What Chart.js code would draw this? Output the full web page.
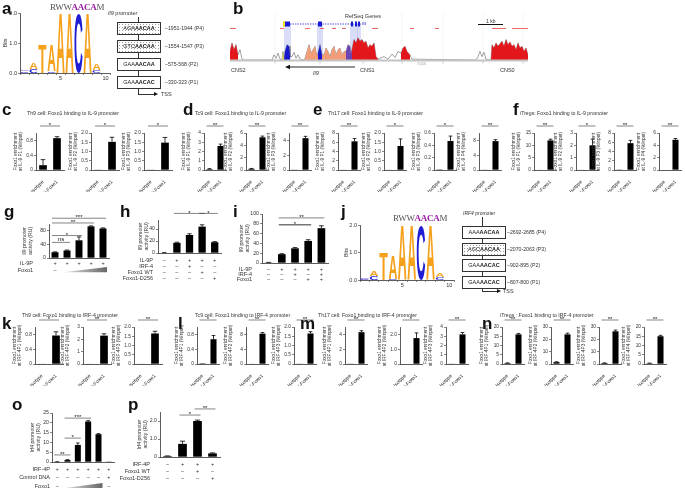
<!DOCTYPE html>
<html><head><meta charset="utf-8">
<script src="https://cdn.jsdelivr.net/npm/chart.js@4.4.1/dist/chart.umd.min.js"></script>
<style>
body{margin:0;background:#fff;font-family:"Liberation Sans",Arial,sans-serif;color:#222}
#fig{position:relative;width:685px;height:488px;overflow:hidden}
canvas{position:absolute}
.t{position:absolute;font-size:5.2px;line-height:1;white-space:nowrap;color:#333}
.p{position:absolute;font-size:17px;font-weight:bold;line-height:1;color:#111}
.bx{position:absolute;width:42px;height:11px;border:1px solid #333;font-size:5.5px;line-height:11px;text-align:center;background:#fff;color:#222}
.dot{background-image:radial-gradient(#999 0.6px,transparent 0.9px);background-size:3px 3px}
.ln{position:absolute;background:#333}
.motif{position:absolute;font-family:"Liberation Serif",serif;font-size:9px;line-height:1;color:#555;letter-spacing:-0.3px}
.motif b{color:#9b1fa5}
</style></head><body><div id="fig"></div>
<script>
// ---------- data ----------
const logoPos = ['1', '2', '3', '4', '5', '6', '7', '8', '9', '10'];
const logoLowSeq = ['C', 'C', '', 'C', '', '', '', '', 'C', 'G'];
const logoTopSeq = ['G', 'A', 'T', 'A', 'A', 'A', 'C', 'A', 'A', 'A'];
const logoA_low = [0.06, 0.12, 0, 0.07, 0, 0, 0, 0, 0.1, 0.02];
const logoA_top = [0.05, 0.22, 0.95, 0.85, 2.0, 2.0, 1.97, 2.0, 0.2, 0.01];
const logoJ_low = [0.05, 0.15, 0, 0.05, 0, 0, 0, 0, 0.1, 0.02];
const logoJ_top = [0.05, 0.2, 1.0, 0.85, 2.0, 2.0, 1.97, 2.0, 0.15, 0.01];

// conservation track (panel b)
const trackPos = [0, 2, 4, 6, 8, 10, 12, 14, 42, 44, 46, 48, 50, 52, 53, 54, 55, 57, 59, 60, 62, 64, 66, 68, 70, 74, 75, 77, 79, 81, 83, 85, 87, 88, 90, 92, 94, 96, 98, 100, 102, 104, 106, 108, 110, 112, 114, 116, 118, 120, 121, 122, 124, 126, 128, 130, 132, 134, 136, 138, 140, 142, 144, 146, 148, 150, 154, 158, 162, 165, 168, 171, 173, 175, 177, 180, 182, 246, 248, 250, 252, 254, 256, 261, 262, 264, 266, 268, 270, 272, 274, 276, 278, 280, 282, 284, 286, 288, 290, 292, 294, 296, 298];
const trackBits = [.5, 1.0, .6, .9, .3, .6, .05, 0, 0, .3, .1, .4, .05, 0, .5, 0, .5, .9, .8, .2, .2, .45, .1, .3, .05, 0, .1, .5, .9, .4, .6, .8, .2, .4, .9, .3, .3, .7, .5, .2, .6, .8, .3, .6, .7, .3, .5, .5, .9, .8, .3, .6, 1.2, 1.0, 1.3, 1.1, 1.2, 1.0, 1.1, .7, .9, .8, 1.0, .2, .05, .1, .2, .05, .35, .15, .5, .4, .7, .8, .5, .3, .05, 0, .2, .5, .2, .45, .05, 0, .9, .7, 1.0, .8, .95, 1.1, .8, 1.2, .9, 1.05, .8, .9, .6, 1.0, .7, .8, .5, .7, .3];
const trackRegions = [[0, 8, '#e3161c'], [52, 54, '#e6dc3a'], [54, 60, '#1717cc'], [74, 88, '#f29c78'], [88, 92, '#1717cc'], [92, 116, '#f29c78'], [116, 122, '#6b44b5'], [121, 148, '#e3161c'], [171, 180, '#e3161c'], [261, 298, '#e3161c']];
const geneSpan = [55, 131];
const geneExons = [[55, 60], [88, 92], [121, 123], [125, 127], [128, 130]];
const repeats = [[0, 6], [50, 54], [75, 80], [90, 94], [102, 106], [112, 116], [142, 148], [180, 184], [205, 209], [262, 276], [282, 298]];
const trackGrid = [45, 90, 133, 172, 213, 253, 293];

// ChIP panels
const chipLabels = ['Isotype', 'Anti-Foxo1'];
const cMean = [[0.13, 0.86], [0.01, 1.52], [0.01, 1.48]];
const cErr = [[0.15, 0.04], [0, 0.25], [0, 0.28]];
const cAxis = [[1, 0.2], [2, 0.5], [2, 0.5]];
const cStar = ['*', '*', '*'];
const dMean = [[0.1, 2.6], [0.2, 5.3], [0.02, 4.3]];
const dErr = [[0.05, 0.2], [0.05, 0.2], [0, 0.25]];
const dAxis = [[4, 1], [6, 2], [5, 1]];
const dStar = ['**', '**', '**'];
const eMean = [[0.05, 6.2], [0.02, 1.3], [0.01, 0.47], [0.05, 7.8]];
const eErr = [[0, 0.6], [0, 0.38], [0, 0.08], [0, 0.4]];
const eAxis = [[8, 2], [2, 0.5], [0.6, 0.2], [10, 2]];
const eStar = ['**', '*', '*', '**'];
const fMean = [[0.1, 12], [0.02, 2.0], [0.02, 5.8], [0.05, 4.9]];
const fErr = [[0, 0.5], [0, 0.5], [0, 0.6], [0, 0.2]];
const fAxis = [[15, 5], [3, 1], [8, 2], [6, 2]];
const fStar = ['**', '*', '**', '**'];
const kMean = [[0.01, 0.77], [0.02, 2.3], [0.02, 1.65]];
const kErr = [[0, 0.1], [0, 0.15], [0, 0.12]];
const kAxis = [[1, 0.2], [3, 1], [2, 0.5]];
const kStar = ['*', '**', '**'];
const lMean = [[0.02, 0.67], [0.1, 8.2], [0.01, 1.65]];
const lErr = [[0, 0.1], [0, 0.3], [0, 0.1]];
const lAxis = [[1, 0.2], [10, 2], [2, 0.5]];
const lStar = ['*', '**', '**'];
const mMean = [[0.02, 4.3], [0.02, 1.75], [0.02, 3.2]];
const mErr = [[0, 0.2], [0, 0.35], [0, 0.2]];
const mAxis = [[5, 1], [2.5, 0.5], [4, 1]];
const mStar = ['**', '*', '**'];
const nMean = [[0.5, 16], [1.5, 24], [0.8, 26.5], [0.4, 15]];
const nErr = [[0.1, 0.5], [0.3, 1], [0.1, 1], [0.1, 0.5]];
const nAxis = [[20, 5], [30, 10], [30, 10], [20, 5]];
const nStar = ['**', '**', '**', '**'];

// promoter activity panels
const gVals = [17, 22, 52, 93, 87];
const gErr = [1, 1.5, 10, 1.5, 1.5];
const gSig = [[0, 1, 'ns', 46], [0, 2, '*', 66], [0, 3, '**', 103], [0, 4, '***', 117]];
const gIL9P = ['+', '+', '+', '+', '+'];
const gFoxo1 = ['–', '', '', '', ''];
const hVals = [0.5, 17, 30, 44, 18];
const hErr = [0.2, 1, 2, 3, 1];
const hSig = [[1, 3, '*', 66], [3, 4, '*', 66]];
const hIL9P = ['–', '+', '+', '+', '+'];
const hIRF4 = ['–', '–', '+', '–', '–'];
const hWT = ['–', '–', '–', '+', '–'];
const hD256 = ['–', '–', '–', '–', '+'];
const iVals = [1, 18, 30, 45, 71];
const iErr = [0.3, 1, 1.5, 2.5, 5];
const iSig = [[1, 4, '**', 92], [1, 3, '*', 78, '#777', 1.6]];
const iIL9P = ['–', '+', '+', '+', '+'];
const iIRF4 = ['–', '–', '+', '–', '+'];
const iFoxo1 = ['–', '–', '–', '+', '+'];
const oVals = [0.1, 1, 8.7, 20.7, 14.2, 0.05];
const oErr = [0.05, 0.2, 1, 0.5, 0.3, 0];
const oSig = [[0, 1, '**', 3.6], [1, 2, '*', 12.2], [1, 3, '***', 22.4]];
const oIRF4P = ['+', '+', '+', '+', '+', '+'];
const oCtrl = ['–', '–', '–', '–', '–', '+'];
const oFoxo1 = ['–', '', '', '', '', '–'];
const pVals = [0.05, 0.73, 2.0, 0.2];
const pErr = [0.01, 0.15, 0.05, 0.03];
const pSig = [[1, 2, '*', 2.33], [2, 3, '**', 2.67]];
const pIRF4P = ['–', '+', '+', '+'];
const pWT = ['–', '–', '+', '–'];
const pD256 = ['–', '–', '–', '+'];

// ---------- setup ----------
Chart.defaults.font.family = '"Liberation Sans", Arial, sans-serif';
Chart.defaults.font.size = 5;
Chart.defaults.color = '#333';
Chart.defaults.animation = false;
Chart.defaults.responsive = false;
Chart.defaults.plugins.legend.display = false;
Chart.defaults.plugins.tooltip.enabled = false;

const fig = document.getElementById('fig');

function canvasAt(area, m) {
  const c = document.createElement('canvas');
  const w = area.R - area.L + m.l + m.r, h = area.B - area.T + m.t + m.b;
  c.width = w; c.height = h;
  c.style.left = (area.L - m.l) + 'px';
  c.style.top = (area.T - m.t) + 'px';
  c.style.width = w + 'px'; c.style.height = h + 'px';
  fig.appendChild(c);
  return c;
}

function txt(x, y, html, cls, css) {
  const d = document.createElement('div');
  d.className = cls || 't';
  d.style.left = x + 'px'; d.style.top = y + 'px';
  if (css) d.style.cssText += css;
  d.innerHTML = html;
  fig.appendChild(d);
  return d;
}

// error bars (upper only)
const errBars = {
  id: 'errBars',
  afterDatasetsDraw(chart) {
    const ds = chart.data.datasets[0];
    if (!ds.err) return;
    const ctx = chart.ctx, ys = chart.scales.y;
    chart.getDatasetMeta(0).data.forEach((bar, i) => {
      const e = ds.err[i];
      if (!e) return;
      const top = ys.getPixelForValue(ds.data[i] + e);
      const cap = bar.width * 0.3;
      ctx.save();
      ctx.strokeStyle = '#000'; ctx.lineWidth = 0.8;
      ctx.beginPath();
      ctx.moveTo(bar.x, bar.y); ctx.lineTo(bar.x, top);
      ctx.moveTo(bar.x - cap, top); ctx.lineTo(bar.x + cap, top);
      ctx.stroke();
      ctx.restore();
    });
  }
};

// significance brackets
const sigBars = {
  id: 'sigBars',
  afterDraw(chart) {
    const items = chart.data.sig;
    if (!items) return;
    const ctx = chart.ctx, xs = chart.scales.x, ys = chart.scales.y;
    items.forEach(s => {
      const x1 = xs.getPixelForValue(s[0]) - 3, x2 = xs.getPixelForValue(s[1]) + 3;
      const y = s[3] == null ? chart.chartArea.top - 7 : ys.getPixelForValue(s[3]);
      ctx.save();
      ctx.strokeStyle = s[4] || '#333'; ctx.lineWidth = s[5] || 0.6;
      ctx.beginPath(); ctx.moveTo(x1, y); ctx.lineTo(x2, y); ctx.stroke();
      ctx.fillStyle = '#111';
      ctx.font = '6px "Liberation Sans"';
      ctx.textAlign = 'center'; ctx.textBaseline = 'bottom';
      ctx.fillText(s[2], (x1 + x2) / 2, s[2][0] === '*' ? y + 2.5 : y - 0.3);
      ctx.restore();
    });
  }
};

// +/- treatment table under the bars
const treatTable = {
  id: 'treatTable',
  afterDraw(chart) {
    const t = chart.data.table;
    if (!t) return;
    const ctx = chart.ctx, xs = chart.scales.x, a = chart.chartArea;
    ctx.save();
    ctx.font = '5.5px "Liberation Sans"'; ctx.textBaseline = 'middle';
    t.rows.forEach((r, k) => {
      const y = a.bottom + t.start + k * t.gap;
      ctx.fillStyle = '#333';
      ctx.textAlign = 'right'; ctx.fillText(r[0], a.left - t.off, y);
      ctx.textAlign = 'center';
      r[1].forEach((c, i) => { if (c) ctx.fillText(c, xs.getPixelForValue(i), y); });
      if (r[2]) {
        const x0 = xs.getPixelForValue(r[2][0]) - 4, x1 = xs.getPixelForValue(r[2][1]) + 4;
        const g = ctx.createLinearGradient(x0, 0, x1, 0);
        g.addColorStop(0, '#e4e4e4'); g.addColorStop(1, '#666');
        ctx.fillStyle = g;
        ctx.beginPath(); ctx.moveTo(x0, y + 2.2); ctx.lineTo(x1, y + 2.2); ctx.lineTo(x1, y - 3); ctx.closePath(); ctx.fill();
      }
    });
    ctx.restore();
  }
};

// sequence logo letters stretched into each stacked bar
const letterColor = { A: '#f6a11c', T: '#f6a11c', C: '#1d1dd4', G: '#8a52c2' };
const logoLetters = {
  id: 'logoLetters',
  afterDatasetsDraw(chart) {
    const ctx = chart.ctx;
    chart.data.datasets.forEach((ds, di) => {
      chart.getDatasetMeta(di).data.forEach((bar, i) => {
        const L = ds.letters[i];
        const h = bar.base - bar.y;
        if (!L || h < 0.6) return;
        ctx.save();
        ctx.font = 'bold 100px "Liberation Sans"';
        const m = ctx.measureText(L);
        const gw = m.actualBoundingBoxLeft + m.actualBoundingBoxRight;
        const gh = m.actualBoundingBoxAscent + m.actualBoundingBoxDescent;
        ctx.translate(bar.x - bar.width / 2, bar.base);
        ctx.scale(bar.width / gw, h / gh);
        ctx.fillStyle = letterColor[L];
        ctx.fillText(L, m.actualBoundingBoxLeft, -m.actualBoundingBoxDescent);
        ctx.restore();
      });
    });
  }
};

const axisLine = { color: '#333', width: 0.8 };
const tickGrid = { drawOnChartArea: false, tickLength: 2, color: '#333', lineWidth: 0.6 };

function logo(area, m, yw, low, top) {
  const cv = canvasAt(area, m);
  new Chart(cv, {
    type: 'bar',
    data: {
      labels: logoPos,
      datasets: [
        { data: low, letters: logoLowSeq, backgroundColor: 'rgba(0,0,0,0)', barPercentage: 0.9, categoryPercentage: 1 },
        { data: top, letters: logoTopSeq, backgroundColor: 'rgba(0,0,0,0)', barPercentage: 0.9, categoryPercentage: 1 }
      ]
    },
    options: {
      layout: { padding: { left: m.l - yw, top: m.t, right: m.r, bottom: 0 } },
      scales: {
        x: { stacked: true, grid: tickGrid, border: axisLine,
             ticks: { maxRotation: 0, autoSkip: false, padding: 0, font: { size: 5.5 }, callback: (v, i) => (i === 4 || i === 9) ? logoPos[i] : '' },
             afterFit: s => { s.height = m.b; } },
        y: { stacked: true, min: 0, max: 2, grid: tickGrid, border: axisLine,
             ticks: { stepSize: 1, padding: 1, font: { size: 5.5 }, callback: v => v.toFixed(1) },
             title: { display: true, text: 'Bits', font: { size: 5.5 }, padding: 0 },
             afterFit: s => { s.width = yw; } }
      }
    },
    plugins: [logoLetters]
  });
}

function chip(ax, T, wide, site, mean, err, axis, star) {
  const pw = wide ? 28 : 22;
  const L = ax - (wide ? 21 : 16.5);
  const m = { l: 24, t: 13, r: 3, b: 32 };
  const cv = canvasAt({ L: L, T: T, R: L + pw, B: T + 37 }, m);
  new Chart(cv, {
    type: 'bar',
    data: {
      labels: chipLabels,
      datasets: [{ data: mean, err: err, backgroundColor: '#000', barPercentage: 0.55, categoryPercentage: 1 }],
      sig: [[0, 1, star]]
    },
    options: {
      layout: { padding: { left: 1, top: m.t, right: m.r, bottom: 10 } },
      scales: {
        x: { grid: { display: false }, border: axisLine,
             ticks: { autoSkip: false, minRotation: 45, maxRotation: 45, padding: 1, color: '#222', font: { size: 4.9 } },
             afterFit: s => { s.height = 22; } },
        y: { min: 0, max: axis[0], grid: tickGrid, border: axisLine,
             ticks: { stepSize: axis[1], padding: 1, font: { size: 4.8 } },
             title: { display: true, text: ['Foxo1 enrichment', 'at ' + site + ' (%Input)'], font: { size: 4.7, lineHeight: 1.1 }, padding: 0 },
             afterFit: s => { s.width = 23; } }
      }
    },
    plugins: [errBars, sigBars]
  });
}

function chipGroup(xs, T, wide, prefix, mean, err, axis, star) {
  xs.forEach((ax, i) => chip(ax, T, wide, prefix + (i + 1), mean[i], err[i], axis[i], star[i]));
}

function activity(area, m, yw, vals, errs, yMax, step, ytitle, sig, table) {
  const cv = canvasAt(area, m);
  new Chart(cv, {
    type: 'bar',
    data: {
      labels: vals.map((v, i) => String(i)),
      datasets: [{ data: vals, err: errs, backgroundColor: '#000', barPercentage: 0.58, categoryPercentage: 1 }],
      sig: sig, table: table
    },
    options: {
      layout: { padding: { left: m.l - yw, top: m.t, right: m.r, bottom: m.b } },
      scales: {
        x: { grid: { display: false }, border: axisLine, ticks: { display: false }, afterFit: s => { s.height = 0; } },
        y: { min: 0, max: yMax, grid: tickGrid, border: axisLine,
             ticks: { stepSize: step, padding: 1, font: { size: 5.2 } },
             afterBuildTicks: s => { s.ticks = s.ticks.filter(t => Math.abs(t.value / step - Math.round(t.value / step)) < 1e-6); },
             title: { display: true, text: ytitle, font: { size: 5.2, lineHeight: 1.1 }, padding: 0 },
             afterFit: s => { s.width = yw; } }
      }
    },
    plugins: [errBars, sigBars, treatTable]
  });
}

// conservation track
const trackDeco = {
  id: 'trackDeco',
  beforeDatasetsDraw(chart) {
    const ctx = chart.ctx, xs = chart.scales.x, a = chart.chartArea;
    ctx.save();
    ctx.strokeStyle = '#d8d8d8'; ctx.lineWidth = 0.6; ctx.setLineDash([1, 1.5]);
    trackGrid.forEach(g => { const x = xs.getPixelForValue(g); ctx.beginPath(); ctx.moveTo(x, a.top - 24); ctx.lineTo(x, a.bottom); ctx.stroke(); });
    ctx.setLineDash([]);
    ctx.fillStyle = 'rgba(170,180,238,0.45)';
    geneExons.forEach(e => { const x0 = xs.getPixelForValue(e[0]), x1 = xs.getPixelForValue(e[1]); ctx.fillRect(x0 - 1, a.top - 13, x1 - x0 + 2, a.bottom - a.top + 13); });
    ctx.restore();
  },
  afterDatasetsDraw(chart) {
    const ctx = chart.ctx, xs = chart.scales.x, a = chart.chartArea;
    ctx.save();
    ctx.fillStyle = '#c4c4c4'; ctx.fillRect(a.left, a.bottom - 0.5, a.right - a.left, 2);
    ctx.strokeStyle = '#888'; ctx.lineWidth = 0.5;
    trackGrid.forEach(g => { const x = xs.getPixelForValue(g); ctx.beginPath(); ctx.moveTo(x, a.bottom + 1.5); ctx.lineTo(x, a.bottom + 3.5); ctx.stroke(); });
    // gene model
    const gy = a.top - 13;
    ctx.strokeStyle = '#2a2ad6'; ctx.lineWidth = 0.8; ctx.setLineDash([1.5, 1]);
    ctx.beginPath(); ctx.moveTo(xs.getPixelForValue(geneSpan[0]), gy); ctx.lineTo(xs.getPixelForValue(geneSpan[1]), gy); ctx.stroke();
    ctx.setLineDash([]);
    ctx.fillStyle = '#e8e23a'; ctx.fillRect(xs.getPixelForValue(geneSpan[0]) - 2, gy - 3, 2, 6);
    ctx.fillStyle = '#1a1ad0';
    geneExons.forEach(e => { const x0 = xs.getPixelForValue(e[0]), x1 = xs.getPixelForValue(e[1]); ctx.fillRect(x0, gy - 2.5, Math.max(x1 - x0, 1.5), 5); });
    ctx.fillStyle = '#2a2ad6'; ctx.font = 'italic 4px "Liberation Sans"'; ctx.textBaseline = 'middle';
    ctx.fillText('Il9', xs.getPixelForValue(geneSpan[1]) + 1, gy);
    // repeats
    ctx.strokeStyle = '#e84040'; ctx.lineWidth = 0.8;
    repeats.forEach(r => { ctx.beginPath(); ctx.moveTo(xs.getPixelForValue(r[0]), a.top - 8.5); ctx.lineTo(xs.getPixelForValue(r[1]), a.top - 8.5); ctx.stroke(); });
    // transcription arrow
    const ay = a.bottom + 7, ax0 = xs.getPixelForValue(geneSpan[0]), ax1 = xs.getPixelForValue(125);
    ctx.strokeStyle = '#111'; ctx.lineWidth = 0.9;
    ctx.beginPath(); ctx.moveTo(ax0 + 3, ay); ctx.lineTo(ax1, ay); ctx.stroke();
    ctx.fillStyle = '#111';
    ctx.beginPath(); ctx.moveTo(ax0, ay); ctx.lineTo(ax0 + 5, ay - 2.2); ctx.lineTo(ax0 + 5, ay + 2.2); ctx.closePath(); ctx.fill();
    ctx.restore();
  }
};

function track() {
  const m = { l: 2, t: 27, r: 4, b: 22 };
  const cv = canvasAt({ L: 230, T: 37, R: 528, B: 60 }, m);
  const pts = trackPos.map((x, i) => ({ x: x, y: trackBits[i] }));
  const sets = trackRegions.map(r => ({
    data: pts.filter(p => p.x >= r[0] && p.x <= r[1]),
    backgroundColor: r[2], borderWidth: 0, fill: 'origin'
  }));
  sets.push({ data: pts, borderColor: '#444', borderWidth: 0.5, fill: false });
  new Chart(cv, {
    type: 'line',
    data: { datasets: sets },
    options: {
      layout: { padding: { left: m.l, top: m.t, right: m.r, bottom: m.b } },
      elements: { point: { radius: 0 }, line: { tension: 0 } },
      scales: {
        x: { type: 'linear', min: 0, max: 298, display: false },
        y: { min: 0, max: 1.35, display: false }
      }
    },
    plugins: [trackDeco]
  });
}

// ---------- draw ----------
// panel a
logo({ L: 20, T: 13, R: 110, B: 73 }, { l: 19, t: 8, r: 3, b: 10 }, 18, logoA_low, logoA_top);
txt(50, 3, 'RWW<b>AACA</b>M', 'motif');
txt(108, 11, '<i>Il9</i> promoter', 't', 'font-size:5.5px');
txt(138, 17, '', 'ln', 'width:0.8px;height:77px');
[['AGA<b>AACAA</b>', '–1951-1944 (P4)', true], ['GTC<b>AACAA</b>', '–1554-1547 (P3)', true],
 ['GAA<b>AACAA</b>', '–575-568 (P2)', false], ['GAA<b>AACAC</b>', '–330-323 (P1)', false]].forEach((b, i) => {
  txt(117, 22 + i * 18, b[0], 'bx' + (b[2] ? ' dot' : ''));
  txt(165, 26 + i * 18, b[1]);
});
txt(138, 93.5, '', 'ln', 'width:17px;height:0.8px');
txt(154, 92, '', 't', 'width:0;height:0;border-left:4px solid #111;border-top:2px solid transparent;border-bottom:2px solid transparent');
txt(161, 91.5, 'TSS', 't', 'font-size:5.5px');

// panel b
track();
txt(345, 14, 'RefSeq Genes', 't', 'font-size:5.5px');
txt(486, 19, '1 kb', 't', 'font-size:5px');
txt(478, 24, '', 'ln', 'width:25px;height:1.3px;background:#111');
txt(231, 68, 'CNS2', 't', 'font-size:5.5px');
txt(360, 68, 'CNS1', 't', 'font-size:5.5px');
txt(500, 68, 'CNS0', 't', 'font-size:5.5px');
txt(313, 71, '<i>Il9</i>', 't', 'font-size:5.5px');
txt(417, 63, '70,000', 't', 'font-size:3px;color:#999');

// panel j
logo({ L: 360, T: 225, R: 454, B: 280 }, { l: 18, t: 8, r: 3, b: 10 }, 17, logoJ_low, logoJ_top);
txt(393, 214, 'RWW<b>AACA</b>M', 'motif');
txt(463, 211, '<i>IRF4</i> promoter', 't', 'font-size:5px');
txt(482, 217, '', 'ln', 'width:0.8px;height:74px');
[['AAA<b>AACAA</b>', '–2692-2685 (P4)', false], ['AGC<b>AACAA</b>', '–2070-2063 (P3)', true],
 ['GAA<b>AACAC</b>', '–902-895 (P2)', false], ['GAA<b>AACAC</b>', '–807-800 (P1)', false]].forEach((b, i) => {
  txt(462, 226 + i * 16.7, b[0], 'bx' + (b[2] ? ' dot' : ''));
  txt(507, 230 + i * 16.7, b[1]);
});
txt(482, 290.5, '', 'ln', 'width:16px;height:0.8px');
txt(497, 289, '', 't', 'width:0;height:0;border-left:4px solid #111;border-top:2px solid transparent;border-bottom:2px solid transparent');
txt(503, 288.5, 'TSS', 't', 'font-size:5.5px');

// ChIP rows
chipGroup([57, 112, 165], 133, true, 'IL-9 P', cMean, cErr, cAxis, cStar);
chipGroup([220, 262, 305], 133, false, 'IL-9 P', dMean, dErr, dAxis, dStar);
chipGroup([354, 400, 450, 495], 133, false, 'IL-9 P', eMean, eErr, eAxis, eStar);
chipGroup([550, 592, 630, 675], 133, false, 'IL-9 P', fMean, fErr, fAxis, fStar);
chipGroup([56, 104, 155], 327, true, 'IRF-4P', kMean, kErr, kAxis, kStar);
chipGroup([213, 262, 310], 327, false, 'IRF-4P', lMean, lErr, lAxis, lStar);
chipGroup([361, 416, 462], 327, false, 'IRF-4P', mMean, mErr, mAxis, mStar);
chipGroup([518, 567, 615, 660], 327, false, 'IRF-4P', nMean, nErr, nAxis, nStar);

txt(27, 111, 'Th9 cell: Foxo1 binding to IL-9 promoter');
txt(195, 111, 'Tc9 cell: Foxo1 binding to IL-9 promoter');
txt(328, 111, 'Th17 cell: Foxo1 binding to IL-9 promoter');
txt(520, 111, 'iTregs: Foxo1 binding to IL-9 promoter');
txt(22, 313, 'Th9 cell: Foxo1 binding to IRF-4 promoter');
txt(195, 313, 'Tc9 cell: Foxo1 binding to IRF-4 promoter');
txt(318, 313, 'Th17 cell: Foxo1 binding to IRF-4 promoter');
txt(500, 313, 'iTregs : Foxo1 binding to IRF-4 promoter');

// promoter activity panels
const il9Title = ['Il9 promoter', 'activity (RU)'];
const irf4Title = ['Irf4 promoter', 'activity (RU)'];
activity({ L: 49, T: 224, R: 109, B: 258 }, { l: 37, t: 14, r: 4, b: 18 }, 27, gVals, gErr, 100, 20, il9Title, gSig,
  { start: 5, gap: 7, off: 16, rows: [['IL-9P', gIL9P], ['Foxo1', gFoxo1, [1, 4]]] });
activity({ L: 158, T: 220, R: 221, B: 253 }, { l: 39, t: 12, r: 3, b: 30 }, 20, hVals, hErr, 55, 20, il9Title, hSig,
  { start: 7, gap: 6, off: 5, rows: [['IL-9P', hIL9P], ['IRF-4', hIRF4], ['Foxo1 WT', hWT], ['Foxo1-D256', hD256]] });
activity({ L: 262, T: 214, R: 328, B: 263 }, { l: 30, t: 10, r: 4, b: 22 }, 23, iVals, iErr, 100, 20, il9Title, iSig,
  { start: 6, gap: 5, off: 10, rows: [['IL-9P', iIL9P], ['IRF-4', iIRF4], ['Foxo1', iFoxo1]] });
activity({ L: 52, T: 413, R: 114, B: 462 }, { l: 41, t: 10, r: 4, b: 26 }, 22, oVals, oErr, 25, 5, irf4Title, oSig,
  { start: 7, gap: 8.5, off: 2, rows: [['IRF-4P', oIRF4P], ['Control DNA', oCtrl], ['Foxo1', oFoxo1, [1, 4]]] });
activity({ L: 160, T: 412, R: 220, B: 457 }, { l: 40, t: 12, r: 4, b: 28 }, 23, pVals, pErr, 2.5, 0.5, irf4Title, pSig,
  { start: 7, gap: 7, off: 10, rows: [['IRF-4P', pIRF4P], ['Foxo1 WT', pWT], ['Foxo1-D256', pD256]] });

// panel letters
[['a', 2, 0], ['b', 233, 0], ['c', 2, 101], ['d', 183, 101], ['e', 313, 101], ['f', 513, 101],
 ['g', 4, 203], ['h', 120, 203], ['i', 233, 203], ['j', 341, 203], ['k', 2, 315], ['l', 178, 315],
 ['m', 300, 315], ['n', 482, 315], ['o', 12, 396], ['p', 128, 396]].forEach(p => txt(p[1], p[2], p[0], 'p'));
</script></body></html>
